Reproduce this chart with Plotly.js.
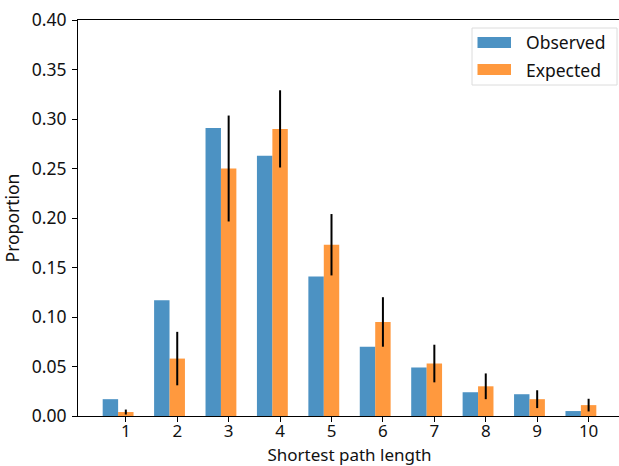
<!DOCTYPE html>
<html>
<head>
<meta charset="utf-8">
<script src="https://cdn.plot.ly/plotly-3.0.1.min.js"></script>
<style>
html,body{margin:0;padding:0;overflow:hidden;background:#fff;}
#chart{width:623px;height:466px;}
</style>
</head>
<body>
<div id="chart"></div>
<script>
// Data
const categories = [1, 2, 3, 4, 5, 6, 7, 8, 9, 10];
const tickLabels = ["1", "2", "3", "4", "5", "6", "7", "8", "9", "10"];
const observed = [0.017, 0.117, 0.291, 0.263, 0.141, 0.070, 0.049, 0.024, 0.022, 0.005];
const expected = [0.004, 0.058, 0.250, 0.290, 0.173, 0.095, 0.053, 0.030, 0.017, 0.011];
const expectedErr = [0.0025, 0.027, 0.0535, 0.039, 0.031, 0.025, 0.019, 0.013, 0.009, 0.0064];
const seriesNames = ["Observed", "Expected"];
const yTickVals = [0, 0.05, 0.10, 0.15, 0.20, 0.25, 0.30, 0.35, 0.40];
const yTickText = ["0.00", "0.05", "0.10", "0.15", "0.20", "0.25", "0.30", "0.35", "0.40"];

const blue = "rgba(31,119,180,0.8)";
const orange = "rgba(255,127,14,0.8)";
const font = {family: "Noto Sans, Open Sans, sans-serif", size: 17.5, color: "#111"};
const xFont = {family: "Noto Sans, Open Sans, sans-serif", size: 17, color: "#111"};

const traces = [
  {
    type: "bar", name: seriesNames[0], x: categories, y: observed,
    width: 0.3, offset: -0.45,
    marker: {color: blue, line: {width: 0}},
    showlegend: false, hoverinfo: "skip"
  },
  {
    type: "bar", name: seriesNames[1], x: categories, y: expected,
    width: 0.3,
    marker: {color: orange, line: {width: 0}},
    error_y: {type: "data", array: expectedErr, visible: true, color: "#000", thickness: 2, width: 0},
    showlegend: false, hoverinfo: "skip"
  }
];

// legend drawn in paper coordinates (plot area: x 78..621 px, y 20..416 px)
const px = v => (v - 78) / 543;
const py = v => (416 - v) / 396;

const layout = {
  width: 623, height: 466,
  margin: {l: 78, r: 2, t: 20, b: 50},
  paper_bgcolor: "#fff", plot_bgcolor: "#fff",
  barmode: "overlay",
  font: font,
  showlegend: false,
  xaxis: {
    range: [0.07, 10.63],
    tickmode: "array", tickvals: categories, ticktext: tickLabels,
    ticks: "outside", ticklen: 5, tickwidth: 1, tickcolor: "#000",
    ticklabelstandoff: -5,
    automargin: false,
    showline: true, linecolor: "#000", linewidth: 1, mirror: true,
    showgrid: false, zeroline: false,
    tickfont: xFont,
    title: {text: "Shortest path length", font: xFont, standoff: 14}
  },
  yaxis: {
    range: [0, 0.40],
    tickmode: "array", tickvals: yTickVals, ticktext: yTickText,
    ticks: "outside", ticklen: 5, tickwidth: 1, tickcolor: "#000",
    ticklabelstandoff: 2,
    showline: true, linecolor: "#000", linewidth: 1, mirror: true,
    showgrid: false, zeroline: false,
    tickfont: font,
    title: {text: "Proportion", font: font, standoff: 8}
  },
  shapes: [
    {type: "rect", xref: "paper", yref: "paper", x0: px(472), x1: px(617), y0: py(85), y1: py(28),
     line: {color: "#dcdcdc", width: 1}, fillcolor: "rgba(255,255,255,0.8)"},
    {type: "rect", xref: "paper", yref: "paper", x0: px(477.5), x1: px(511), y0: py(48), y1: py(37),
     line: {width: 0}, fillcolor: blue},
    {type: "rect", xref: "paper", yref: "paper", x0: px(477.5), x1: px(511), y0: py(75), y1: py(64),
     line: {width: 0}, fillcolor: orange}
  ],
  annotations: [
    {xref: "paper", yref: "paper", x: px(524), y: py(42.5), text: seriesNames[0], showarrow: false,
     xanchor: "left", yanchor: "middle", font: font},
    {xref: "paper", yref: "paper", x: px(524), y: py(69.5), text: seriesNames[1], showarrow: false,
     xanchor: "left", yanchor: "middle", font: font}
  ]
};

Plotly.newPlot("chart", traces, layout, {staticPlot: true, displayModeBar: false});
</script>
</body>
</html>
